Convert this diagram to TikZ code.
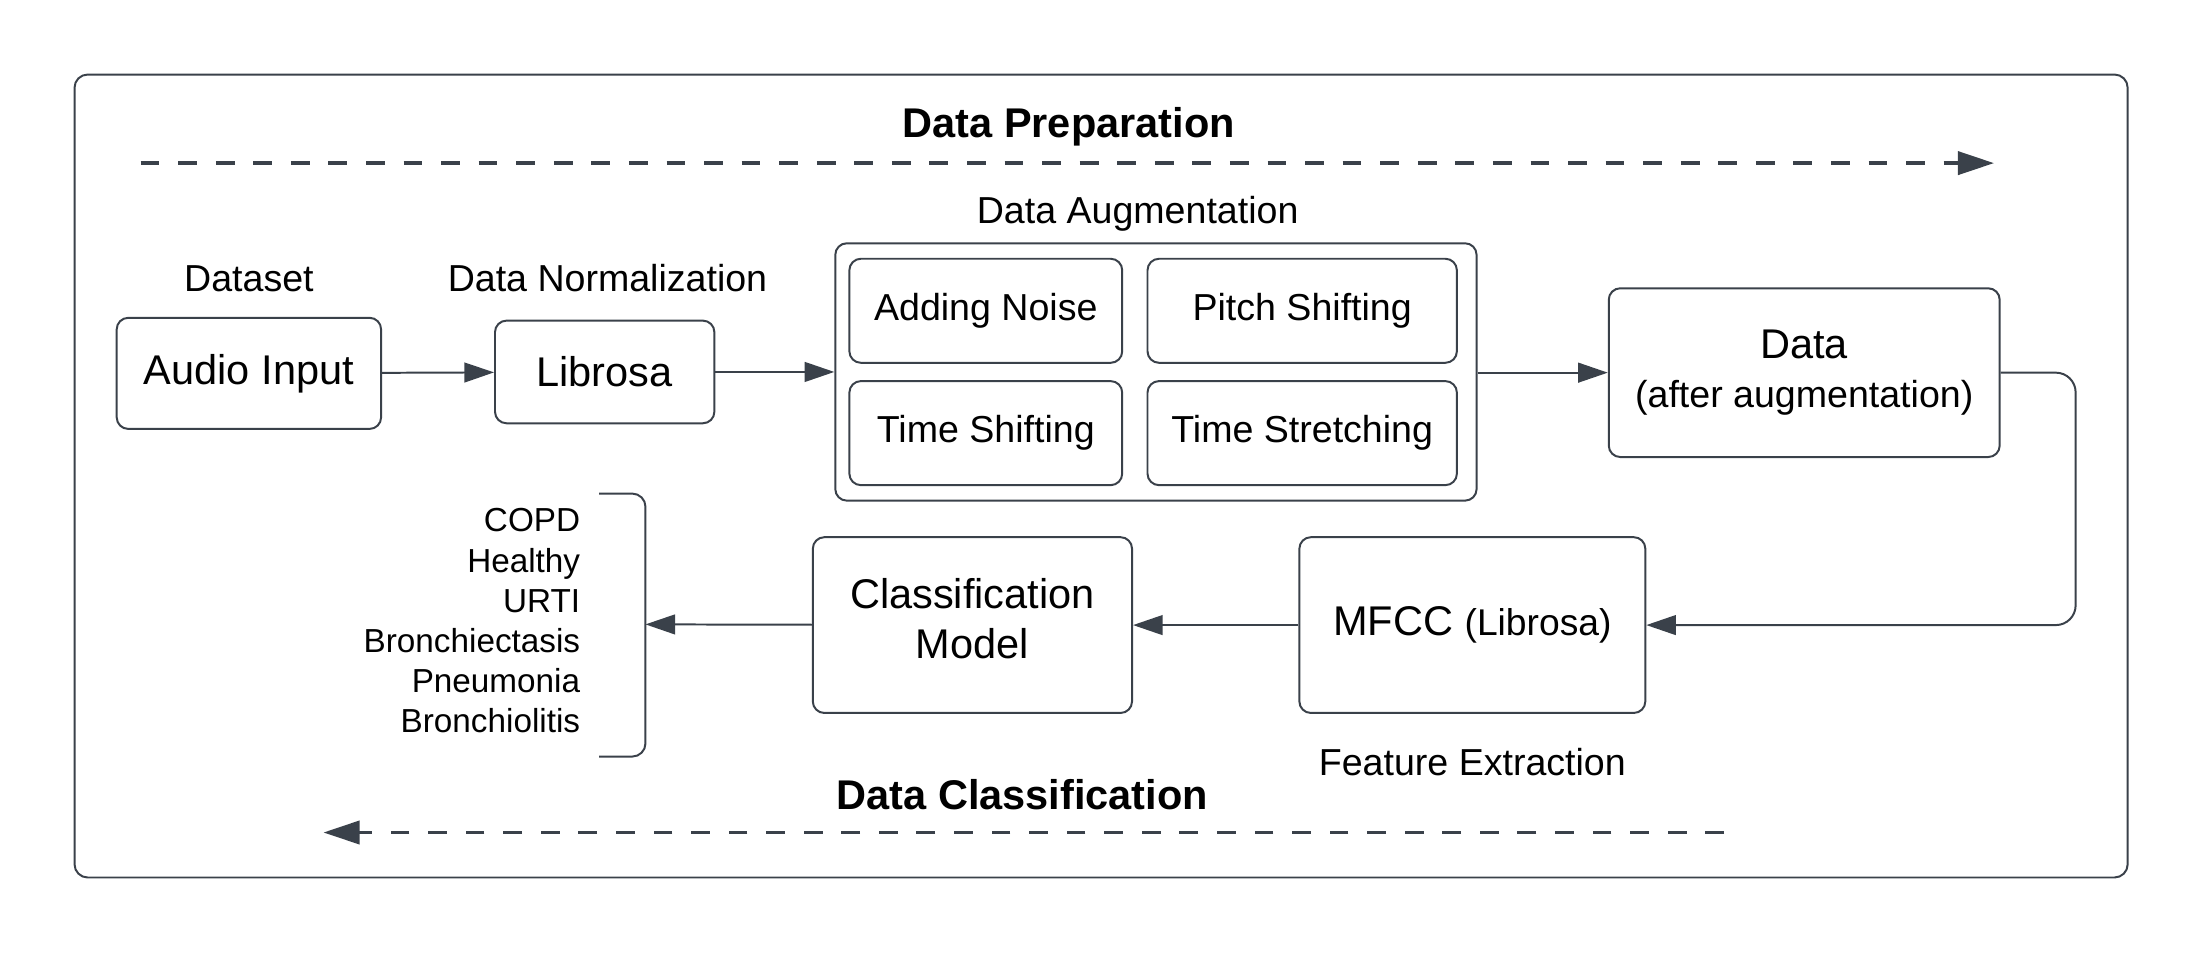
\documentclass[tikz,border=0pt]{standalone}
\usepackage{fontspec}
\setmainfont{Liberation Sans}
\usetikzlibrary{arrows.meta}
\definecolor{ink}{RGB}{58,65,74}

\begin{document}
\begin{tikzpicture}[x=0.015cm, y=-0.015cm,
    box/.style={draw=ink, line width=0.6pt, rounded corners=3.5pt, inner sep=0pt, align=center, font=\fontsize{12.6}{15}\selectfont},
    subbox/.style={box, minimum width=2.91cm, minimum height=1.11cm, font=\fontsize{11.4}{14}\selectfont},
    lbl/.style={font=\fontsize{11.4}{14}\selectfont},
    phasetitle/.style={font=\bfseries\fontsize{12.6}{15}\selectfont},
    flow/.style={draw=ink, line width=0.6pt, -{Triangle[length=9pt, width=6pt]}},
    phase/.style={draw=ink, line width=1.2pt, dash pattern=on 5.7pt off 5.7pt, -{Triangle[length=11pt, width=7pt]}}]
  \useasboundingbox (0,0) rectangle (1568,678);
  \draw[ink, line width=0.6pt, rounded corners=4pt] (53,53) rectangle (1513,624);

  % phase headings
  \node[phasetitle] (prep) at (760,90) {Data Preparation};
  \node[phasetitle] (clsf) at (727,565) {Data Classification};
  \coordinate (prepA) at (100,116);
  \coordinate (prepB) at (1418,116);
  \coordinate (clsfA) at (1226,592);
  \coordinate (clsfB) at (230,592);
  \draw[phase] (prepA) -- (prepB);
  \draw[phase] (clsfA) -- (clsfB);

  % upper row
  \node[box, minimum width=2.82cm, minimum height=1.185cm] (audio) at (177,265.5) {Audio Input};
  \node[lbl] (dataset) at (177,198) {Dataset};
  \node[box, minimum width=2.34cm, minimum height=1.095cm] (librosa) at (430,264.5) {Librosa};
  \node[lbl] (norm) at (432,198) {Data Normalization};
  \node[box, minimum width=6.84cm, minimum height=2.745cm] (aug) at (822,264.5) {};
  \node[lbl] (augtitle) at (809,152) {Data Augmentation};
  \node[subbox] (noise) at (701,221) {Adding Noise};
  \node[subbox, minimum width=3.3cm] (pitch) at (926,221) {Pitch Shifting};
  \node[subbox] (tshift) at (701,308) {Time Shifting};
  \node[subbox, minimum width=3.3cm] (tstretch) at (926,308) {Time Stretching};
  \node[box, minimum width=4.17cm, minimum height=1.8cm] (augdata) at (1283,265) {Data\\{\fontsize{11.4}{14}\selectfont (after augmentation)}};

  % lower row
  \node[box, minimum width=3.69cm, minimum height=1.875cm] (mfcc) at (1047,444.5) {MFCC {\fontsize{11.3}{14}\selectfont (Librosa)}};
  \node[lbl] (feat) at (1047,542) {Feature Extraction};
  \node[box, minimum width=3.405cm, minimum height=1.875cm] (model) at (691.5,444.5) {Classification\\Model\\[-11pt]\mbox{}};
  \node[anchor=east, align=right, inner sep=0pt, font=\fontsize{10.1}{12.2}\selectfont] (classes) at (413,441.5)
    {COPD\\Healthy\\URTI\\Bronchiectasis\\Pneumonia\\Bronchiolitis};
  \coordinate (brk) at (459,444);
  \draw[ink, line width=0.6pt, rounded corners=4pt] (426,351) -- (459,351) -- (459,538) -- (426,538);

  \draw[flow] (audio) -- (librosa);
  \draw[flow] (librosa) -- (aug.west |- librosa);
  \draw[flow] (aug.east |- augdata) -- (augdata);
  \draw[flow, rounded corners=6pt] (augdata.east) -- (1476,265) -- (1476,444.5) -- (mfcc.east);
  \draw[flow] (mfcc) -- (model);
  \draw[flow] (model) -- (brk);
\end{tikzpicture}
\end{document}
